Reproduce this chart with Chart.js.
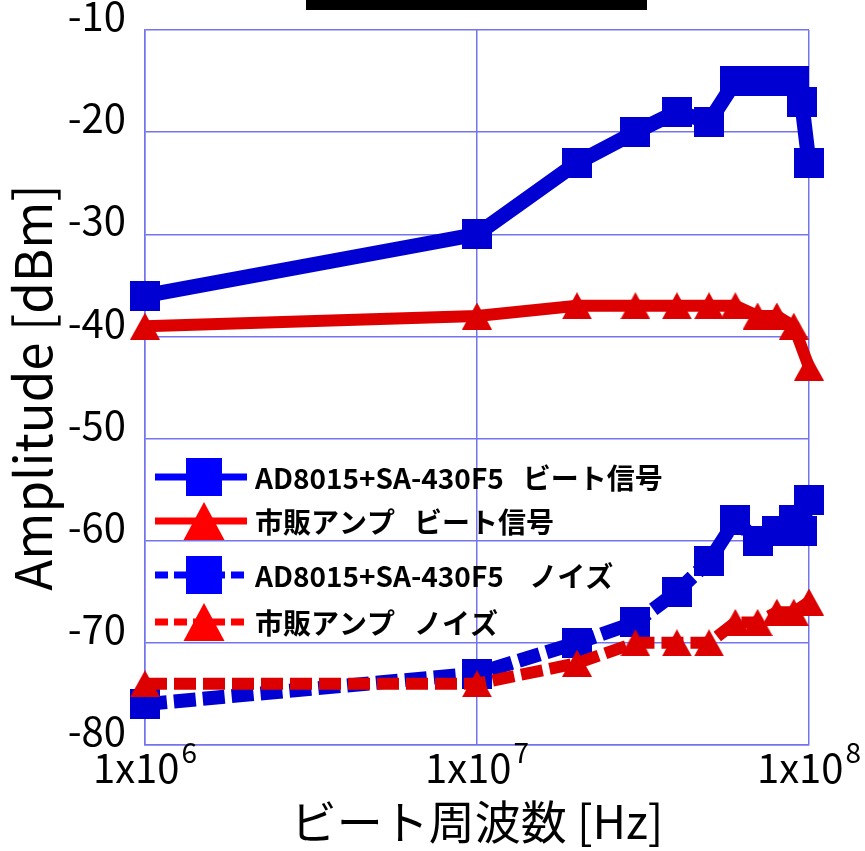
<!DOCTYPE html>
<html>
<head>
<meta charset="utf-8">
<script src="https://cdn.jsdelivr.net/npm/chart.js@4/dist/chart.umd.min.js"></script>
<style>
  html, body { margin: 0; padding: 0; background: #ffffff; }
  #wrap { width: 865px; height: 851px; position: relative; }
</style>
</head>
<body>
<div id="wrap"><canvas id="chart"></canvas></div>
<script>
// Beat frequency [Hz] and measured amplitude [dBm]
const freqSignalAD = [1e6, 1e7, 2e7, 3e7, 4e7, 5e7, 6e7, 7e7, 8e7, 9e7, 9.5e7, 1e8];
const ampSignalAD  = [-36, -30, -23, -20, -18, -19, -15, -15, -15, -15, -17, -23];

const freqSignalAmp = [1e6, 1e7, 2e7, 3e7, 4e7, 5e7, 6e7, 7e7, 8e7, 9e7, 1e8];
const ampSignalAmp  = [-39, -38, -37, -37, -37, -37, -37, -38, -38, -39, -43];

const freqNoiseAD = [1e6, 1e7, 2e7, 3e7, 4e7, 5e7, 6e7, 7e7, 8e7, 9e7, 9.5e7, 1e8];
const ampNoiseAD  = [-76, -73, -70, -68, -65, -62, -58, -60, -59, -58, -59, -56];

const freqNoiseAmp = [1e6, 1e7, 2e7, 3e7, 4e7, 5e7, 6e7, 7e7, 8e7, 9e7, 1e8];
const ampNoiseAmp  = [-74, -74, -72, -70, -70, -70, -68, -68, -67, -67, -66];

const seriesNames = [
  'AD8015+SA-430F5   ビート信号',
  '市販アンプ   ビート信号',
  'AD8015+SA-430F5    ノイズ',
  '市販アンプ   ノイズ'
];

// Axis ticks
const xTickValues = [1e6, 1e7, 1e8];
const xTickMantissa = '1x10';
const xTickExponents = ['6', '7', '8'];
const yTickValues = [-80, -70, -60, -50, -40, -30, -20, -10];
const yTickLabels = ['-80', '-70', '-60', '-50', '-40', '-30', '-20', '-10'];

const xTitle = 'ビート周波数 [Hz]';
const yTitle = 'Amplitude [dBm]';

const FONT = "'Noto Sans CJK JP', 'Noto Sans', sans-serif";
const BLUE = '#0000d2';
const RED = '#dd0000';
const GRID = '#7474ee';

function toPoints(xs, ys) { return xs.map((x, i) => ({ x, y: ys[i] })); }

// Marker sprites, centred on their bounding box
function squareSprite(size, color) {
  const c = document.createElement('canvas');
  c.width = size; c.height = size;
  const g = c.getContext('2d');
  g.fillStyle = color;
  g.fillRect(0, 0, size, size);
  return c;
}
function triangleSprite(w, h, color) {
  const c = document.createElement('canvas');
  c.width = w; c.height = h;
  const g = c.getContext('2d');
  g.fillStyle = color;
  g.beginPath();
  g.moveTo(w / 2, 0); g.lineTo(w, h); g.lineTo(0, h); g.closePath();
  g.fill();
  return c;
}
const blueSquare = squareSprite(30, BLUE);
const redTriangle = triangleSprite(30, 27, RED);

// Black band along the top edge
const headerBand = {
  id: 'headerBand',
  afterDraw(chart) {
    const ctx = chart.ctx;
    ctx.save();
    ctx.fillStyle = '#000000';
    ctx.fillRect(306, 0, 341, 10);
    ctx.restore();
  }
};

// Decade labels 1x10^n with raised exponent
const decadeLabels = {
  id: 'decadeLabels',
  afterDraw(chart) {
    const { ctx, scales: { x } } = chart;
    ctx.save();
    ctx.fillStyle = '#000000';
    ctx.textBaseline = 'alphabetic';
    ctx.textAlign = 'left';
    xTickValues.forEach((v, i) => {
      const px = x.getPixelForValue(v);
      ctx.font = `40px ${FONT}`;
      const wb = ctx.measureText(xTickMantissa).width;
      ctx.font = `28px ${FONT}`;
      const we = ctx.measureText(xTickExponents[i]).width;
      const left = px - (wb + 2 + we) / 2;
      ctx.font = `40px ${FONT}`;
      ctx.fillText(xTickMantissa, left, x.top + 38);
      ctx.font = `28px ${FONT}`;
      ctx.fillText(xTickExponents[i], left + wb + 2, x.top + 18);
    });
    ctx.restore();
  }
};

// Legend drawn inside the plot area
const innerLegend = {
  id: 'innerLegend',
  afterDatasetsDraw(chart) {
    const ctx = chart.ctx;
    const entries = [
      { y: 477, color: '#0000ff', dashed: false, marker: 'square' },
      { y: 521, color: '#ff0000', dashed: false, marker: 'triangle' },
      { y: 575, color: '#0000ff', dashed: true,  marker: 'square' },
      { y: 622, color: '#ff0000', dashed: true,  marker: 'triangle' }
    ];
    ctx.save();
    entries.forEach((e, i) => {
      ctx.strokeStyle = e.color;
      ctx.fillStyle = e.color;
      ctx.lineWidth = 7;
      ctx.setLineDash(e.dashed ? [13, 6] : []);
      ctx.beginPath();
      ctx.moveTo(155, e.y);
      ctx.lineTo(247, e.y);
      ctx.stroke();
      ctx.setLineDash([]);
      if (e.marker === 'square') {
        ctx.fillRect(204 - 18, e.y - 19, 36, 38);
      } else {
        ctx.beginPath();
        ctx.moveTo(204, e.y - 19);
        ctx.lineTo(224.5, e.y + 19);
        ctx.lineTo(183.5, e.y + 19);
        ctx.closePath();
        ctx.fill();
      }
      ctx.fillStyle = '#000000';
      ctx.font = `bold 28px ${FONT}`;
      ctx.textBaseline = 'middle';
      ctx.textAlign = 'left';
      ctx.fillText(seriesNames[i], 255, e.y + 1);
    });
    ctx.restore();
  }
};

new Chart(document.getElementById('chart'), {
  type: 'line',
  data: {
    datasets: [
      {
        label: seriesNames[0], data: toPoints(freqSignalAD, ampSignalAD),
        borderColor: BLUE, backgroundColor: BLUE, borderWidth: 15,
        pointStyle: blueSquare, pointRadius: 15, order: 3, clip: false
      },
      {
        label: seriesNames[1], data: toPoints(freqSignalAmp, ampSignalAmp),
        borderColor: RED, backgroundColor: RED, borderWidth: 12,
        pointStyle: redTriangle, pointRadius: 15, order: 2, clip: false
      },
      {
        label: seriesNames[2], data: toPoints(freqNoiseAD, ampNoiseAD),
        borderColor: BLUE, backgroundColor: BLUE, borderWidth: 14, borderDash: [22, 7],
        pointStyle: blueSquare, pointRadius: 15, order: 1, clip: false
      },
      {
        label: seriesNames[3], data: toPoints(freqNoiseAmp, ampNoiseAmp),
        borderColor: RED, backgroundColor: RED, borderWidth: 12, borderDash: [22, 7],
        pointStyle: redTriangle, pointRadius: 15, order: 0, clip: false
      }
    ]
  },
  options: {
    responsive: true,
    maintainAspectRatio: false,
    animation: false,
    events: [],
    layout: { padding: { top: 27, right: 56, bottom: 0, left: 0 } },
    plugins: { legend: { display: false }, tooltip: { enabled: false } },
    elements: { line: { tension: 0 } },
    scales: {
      x: {
        type: 'logarithmic',
        min: 1e6, max: 1e8,
        afterBuildTicks(scale) { scale.ticks = xTickValues.map(v => ({ value: v })); },
        afterFit(scale) { scale.height = 106; },
        grid: { color: GRID, lineWidth: 1.5, drawTicks: false },
        border: { color: GRID, width: 1.5 },
        ticks: { display: false },
        title: {
          display: true, text: xTitle, color: '#000000',
          font: { family: FONT, size: 46, lineHeight: 1 },
          padding: { top: 0, bottom: 6 }
        }
      },
      y: {
        type: 'linear',
        min: -80, max: -10,
        afterBuildTicks(scale) { scale.ticks = yTickValues.map(v => ({ value: v })); },
        afterFit(scale) {
          scale.width = 145;
          scale.paddingTop = 0;
          scale.paddingBottom = 0;
        },
        grid: { color: GRID, lineWidth: 1.5, drawTicks: false },
        border: { color: GRID, width: 1.5 },
        ticks: {
          color: '#000000',
          padding: 19,
          font: { family: FONT, size: 40, lineHeight: '28px' },
          callback(value) {
            const i = yTickValues.indexOf(value);
            return [i >= 0 ? yTickLabels[i] : String(value), ''];
          }
        },
        title: {
          display: true, text: yTitle, color: '#000000',
          font: { family: FONT, size: 51, lineHeight: 1 },
          padding: { top: 7, bottom: 0 }
        }
      }
    }
  },
  plugins: [headerBand, decadeLabels, innerLegend]
});
</script>
</body>
</html>
